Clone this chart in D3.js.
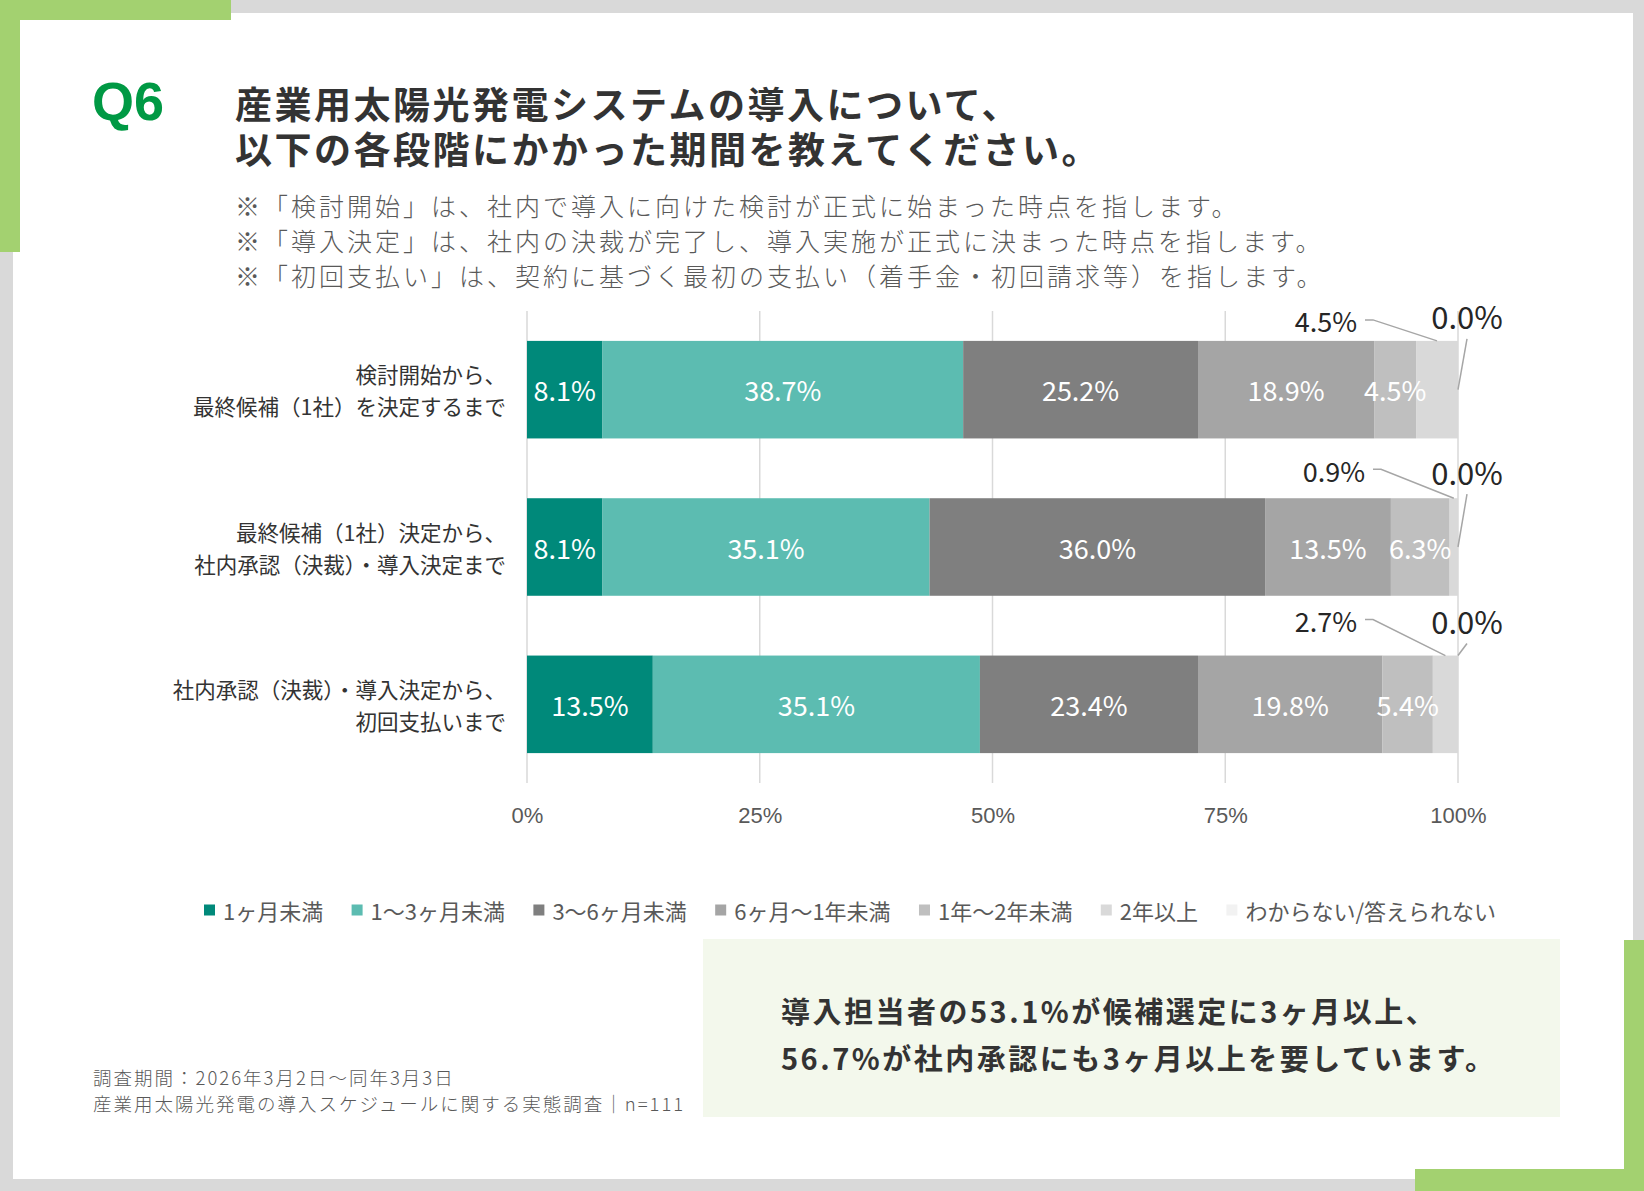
<!DOCTYPE html>
<html><head><meta charset="utf-8">
<script src="https://cdn.jsdelivr.net/npm/d3@7"></script>
<style>
body{margin:0;background:#d9d9d9;}
svg{display:block}
</style>
</head><body>
<svg id="chart" width="1644" height="1191"></svg>
<script>
// ---------- DATA ----------
const categories = [
  "検討開始から、\n最終候補（1社）を決定するまで",
  "最終候補（1社）決定から、\n社内承認（決裁）・導入決定まで",
  "社内承認（決裁）・導入決定から、\n初回支払いまで"
];
const seriesNames = ["1ヶ月未満","1〜3ヶ月未満","3〜6ヶ月未満","6ヶ月〜1年未満","1年〜2年未満","2年以上","わからない/答えられない"];
const lessThan1m   = [8.1, 8.1, 13.5];
const m1to3        = [38.7, 35.1, 35.1];
const m3to6        = [25.2, 36.0, 23.4];
const m6to1y       = [18.9, 13.5, 19.8];
const y1to2        = [4.5, 6.3, 5.4];
const y2plus       = [4.5, 0.9, 2.7];
const unknown      = [0.0, 0.0, 0.0];
const xTicks = [0, 0.25, 0.5, 0.75, 1];
const xTickLabels = ["0%","25%","50%","75%","100%"];
const titleLines = ["産業用太陽光発電システムの導入について、","以下の各段階にかかった期間を教えてください。"];
const noteLines = [
  "※「検討開始」は、社内で導入に向けた検討が正式に始まった時点を指します。",
  "※「導入決定」は、社内の決裁が完了し、導入実施が正式に決まった時点を指します。",
  "※「初回支払い」は、契約に基づく最初の支払い（着手金・初回請求等）を指します。"
];
const summaryLines = ["導入担当者の53.1%が候補選定に3ヶ月以上、","56.7%が社内承認にも3ヶ月以上を要しています。"];
const footerLines = ["調査期間：2026年3月2日〜同年3月3日","産業用太陽光発電の導入スケジュールに関する実態調査｜n=111"];

// ---------- STYLE / LAYOUT ----------
const seriesValues = [lessThan1m, m1to3, m3to6, m6to1y, y1to2, y2plus, unknown];
const colors = ["#00897A","#5CBCB1","#7F7F7F","#A5A5A5","#BFBFBF","#D9D9D9","#F2F2F2"];
const green = "#A3D170";
const JP = '"Noto Sans CJK JP","Noto Sans",sans-serif';

const table = categories.map((c, i) => {
  const row = {cat: c};
  seriesNames.forEach((s, j) => row[s] = seriesValues[j][i]);
  return row;
});

const svg = d3.select("#chart");

// frame
svg.append("rect").attr("x",0).attr("y",0).attr("width",1644).attr("height",1191).attr("fill","#d9d9d9");
svg.append("rect").attr("x",13).attr("y",13).attr("width",1620).attr("height",1166).attr("fill","#fff");
svg.append("rect").attr("x",0).attr("y",0).attr("width",231).attr("height",20).attr("fill",green);
svg.append("rect").attr("x",0).attr("y",0).attr("width",20).attr("height",252).attr("fill",green);
svg.append("rect").attr("x",1624).attr("y",940).attr("width",20).attr("height",251).attr("fill",green);
svg.append("rect").attr("x",1415).attr("y",1169).attr("width",229).attr("height",22).attr("fill",green);

// Q6 + title
svg.append("text").attr("x",92).attr("y",120)
  .attr("font-family",'"Liberation Sans",Arial,sans-serif').attr("font-weight","bold")
  .attr("font-size",54).attr("fill","#009944").text("Q6");
svg.append("g").selectAll("text").data(titleLines).join("text")
  .attr("x",235).attr("y",(d,i)=>103+i*45).attr("dominant-baseline","central")
  .attr("font-family",JP).attr("font-weight","bold").attr("font-size",37)
  .attr("letter-spacing","2.5px").attr("fill","#333").text(d=>d);
svg.append("g").selectAll("text").data(noteLines).join("text")
  .attr("x",235).attr("y",(d,i)=>205+i*35).attr("dominant-baseline","central")
  .attr("font-family",JP).attr("font-weight",300).attr("font-size",25)
  .attr("letter-spacing","3px").attr("fill","#595959").text(d=>d);

// scales
const x = d3.scaleLinear().domain([0,1]).range([527,1458]);
const y = d3.scaleBand().domain(categories).range([311,783]).paddingInner(0.38).paddingOuter(0.19);

// gridlines
svg.append("g").selectAll("line").data(xTicks).join("line")
  .attr("x1",d=>x(d)).attr("x2",d=>x(d)).attr("y1",311).attr("y2",783)
  .attr("stroke","#d9d9d9").attr("stroke-width",1.5);

// axis labels
const xAxis = d3.axisBottom(x).tickValues(xTicks).tickFormat((d,i)=>xTickLabels[i]).tickSize(0).tickPadding(0);
const ax = svg.append("g").attr("transform","translate(0,815)").call(xAxis);
ax.select(".domain").remove();
ax.selectAll("text").attr("dy",null).attr("dominant-baseline","central")
  .attr("font-family",'"Liberation Sans",Arial,sans-serif').attr("font-size",22).attr("fill","#595959");

// category labels
categories.forEach(c => {
  const lines = c.split("\n");
  const cy = y(c) + y.bandwidth()/2;
  svg.append("g").selectAll("text").data(lines).join("text")
    .attr("x",506).attr("y",(d,i)=>cy + (i===0?-16:16)).attr("text-anchor","end")
    .attr("dominant-baseline","central").attr("font-family",JP).attr("font-weight",400)
    .attr("font-size",21.5).attr("fill","#333").text(d=>d);
});

// stacked bars
const stack = d3.stack().keys(seriesNames).offset(d3.stackOffsetExpand);
const layers = stack(table);
const gBars = svg.append("g");
layers.forEach((layer, j) => {
  gBars.append("g").attr("fill",colors[j]).selectAll("rect").data(layer).join("rect")
    .attr("x",d=>x(d[0])).attr("width",d=>Math.max(0,x(d[1])-x(d[0])))
    .attr("y",d=>y(d.data.cat)).attr("height",y.bandwidth());
});
const fmt = v => d3.format(".1f")(v) + "%";

// inside labels (series 0..4)
layers.slice(0,5).forEach((layer, j) => {
  gBars.append("g").selectAll("text").data(layer).join("text")
    .attr("x",d=>(x(d[0])+x(d[1]))/2).attr("y",d=>y(d.data.cat)+y.bandwidth()/2)
    .attr("text-anchor","middle").attr("dominant-baseline","central")
    .attr("font-family",JP).attr("font-size",27).attr("fill","#fff")
    .text(d=>fmt(d.data[seriesNames[j]]));
});

// outside labels with leader lines (series 5 and 6)
const smallDy = [-20,-28,-35];
const smallEndDx = [-101,-93,-101];
const zeroDy = [-25,-27,-35];
const zeroToMid = [true,true,false];
const gOut = svg.append("g");
layers[5].forEach((d, i) => {
  const top = y(d.data.cat);
  const ly = top + smallDy[i];
  const ex = x(1) + smallEndDx[i];
  const segC = (x(d[0])+x(d[1]))/2;
  gOut.append("text").attr("x",ex).attr("y",ly).attr("text-anchor","end")
    .attr("dominant-baseline","central").attr("font-family",JP).attr("font-size",27)
    .attr("fill","#262626").text(fmt(d.data[seriesNames[5]]));
  gOut.append("path").attr("d",d3.line()([[ex+8,ly-1],[ex+16,ly-1],[segC,top]]))
    .attr("fill","none").attr("stroke","#a6a6a6").attr("stroke-width",1.5);
});
layers[6].forEach((d, i) => {
  const top = y(d.data.cat);
  const ly = top + zeroDy[i];
  const lx = x(1) + 9;
  gOut.append("text").attr("x",lx).attr("y",ly).attr("text-anchor","middle")
    .attr("dominant-baseline","central").attr("font-family",JP).attr("font-size",31)
    .attr("fill","#262626").text(fmt(d.data[seriesNames[6]]));
  const ty = zeroToMid[i] ? top + y.bandwidth()/2 : top;
  gOut.append("path").attr("d",d3.line()([[lx,ly+23],[x(d[1]),ty]]))
    .attr("fill","none").attr("stroke","#a6a6a6").attr("stroke-width",1.5);
});

// legend
const gLeg = svg.append("g");
const items = seriesNames.map((s,j) => {
  const g = gLeg.append("g");
  g.append("rect").attr("width",11).attr("height",11).attr("y",-5.5).attr("fill",colors[j]);
  const t = g.append("text").attr("x",19).attr("dominant-baseline","central")
    .attr("font-family",JP).attr("font-size",22).attr("fill","#595959").text(s);
  return {g, w: 19 + t.node().getComputedTextLength()};
});
const span = 1496 - 204;
const gap = (span - d3.sum(items, d=>d.w)) / (items.length - 1);
let lx = 204;
items.forEach(it => { it.g.attr("transform",`translate(${lx},910)`); lx += it.w + gap; });

// summary box
svg.append("rect").attr("x",703).attr("y",939).attr("width",857).attr("height",178).attr("fill","#F3F8EC");
svg.append("g").selectAll("text").data(summaryLines).join("text")
  .attr("x",781).attr("y",(d,i)=>1010+i*47).attr("dominant-baseline","central")
  .attr("font-family",JP).attr("font-weight","bold").attr("font-size",29)
  .attr("letter-spacing","2.5px").attr("fill","#333").text(d=>d);

// footer
svg.append("g").selectAll("text").data(footerLines).join("text")
  .attr("x",93).attr("y",(d,i)=>1077+i*26).attr("dominant-baseline","central")
  .attr("font-family",JP).attr("font-weight",300).attr("font-size",18.5)
  .attr("letter-spacing","2px").attr("fill","#595959").text(d=>d);
</script>
</body></html>
